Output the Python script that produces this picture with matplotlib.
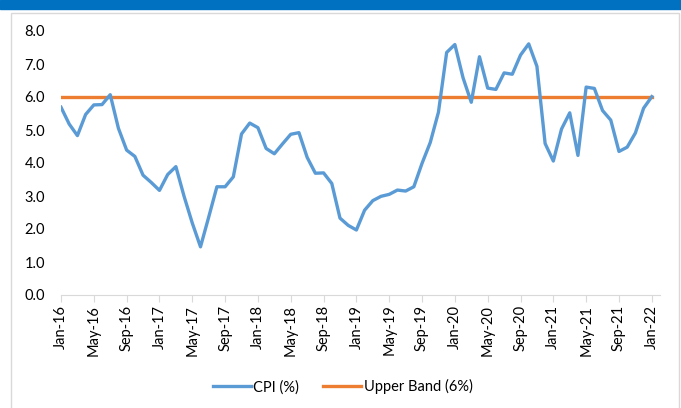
"""CPI against the 6% upper band, Jan-16 to Jan-22."""

import numpy as np
import matplotlib.pyplot as plt
from matplotlib.patches import Rectangle

cpi = [
    5.69, 5.18, 4.83, 5.47, 5.76, 5.77, 6.07, 5.05, 4.39, 4.20, 3.63, 3.41,
    3.17, 3.65, 3.89, 2.99, 2.18, 1.46, 2.36, 3.28, 3.28, 3.58, 4.88, 5.21,
    5.07, 4.44, 4.28, 4.58, 4.87, 4.92, 4.17, 3.69, 3.70, 3.38, 2.33, 2.11,
    1.97, 2.57, 2.86, 2.99, 3.05, 3.18, 3.15, 3.28, 3.99, 4.62, 5.54, 7.35,
    7.59, 6.58, 5.84, 7.22, 6.27, 6.23, 6.73, 6.69, 7.27, 7.61, 6.93, 4.59,
    4.06, 5.03, 5.52, 4.23, 6.30, 6.26, 5.59, 5.30, 4.35, 4.48, 4.91, 5.66,
    6.01,
]
upper_band = [6.0] * len(cpi)
tick_labels = [
    "Jan-16", "May-16", "Sep-16", "Jan-17", "May-17", "Sep-17", "Jan-18",
    "May-18", "Sep-18", "Jan-19", "May-19", "Sep-19", "Jan-20", "May-20",
    "Sep-20", "Jan-21", "May-21", "Sep-21", "Jan-22",
]

plt.rcParams["font.family"] = ["Lato", "DejaVu Sans"]

fig = plt.figure(figsize=(6.81, 4.08), dpi=100)
W, H = 681, 408

# blue header strip and the grey chart frame, kept behind the axes
fig.patches.append(Rectangle((0, 1 - 9 / H), 1, 9 / H, transform=fig.transFigure,
                             color="#0070C0", zorder=-2))
fig.patches.append(Rectangle((11 / W, -0.05), 668 / W, 1.05 - 13 / H,
                             transform=fig.transFigure, facecolor="white",
                             edgecolor="#D9D9D9", linewidth=1.0, zorder=-2))

ax = fig.add_axes([61 / W, (H - 295) / H, (660 - 61) / W, (295 - 31) / H])
ax.set_facecolor("none")
ax.set_zorder(1)

x = np.arange(len(cpi))
ax.plot(x, cpi, color="#5B9BD5", linewidth=2.4, label="CPI (%)",
        solid_joinstyle="round", zorder=3)
ax.plot(x, upper_band, color="#ED7D31", linewidth=2.4, label="Upper Band (6%)",
        zorder=2)

ax.set_xlim(0, len(cpi))
ax.set_ylim(0, 8)
ax.set_yticks(np.arange(0, 9, 1))
ax.set_yticklabels([f"{v:.1f}" for v in range(9)], fontsize=10.5)
ax.set_xticks(x[::4])
ax.set_xticklabels(tick_labels, rotation=90, fontsize=10.5)

for side in ["top", "right", "left"]:
    ax.spines[side].set_visible(False)
ax.spines["bottom"].set_color("#D9D9D9")
ax.tick_params(axis="y", length=0, pad=11.5, colors="#000000")
ax.tick_params(axis="x", length=5, color="#D9D9D9", pad=2)

ax.legend(loc="upper center", bbox_to_anchor=(0.47, -0.27), ncol=2,
          frameon=False, fontsize=10.5, handlelength=2.6, handletextpad=0.2,
          columnspacing=1.6)

fig.savefig("out.png", dpi=100)
